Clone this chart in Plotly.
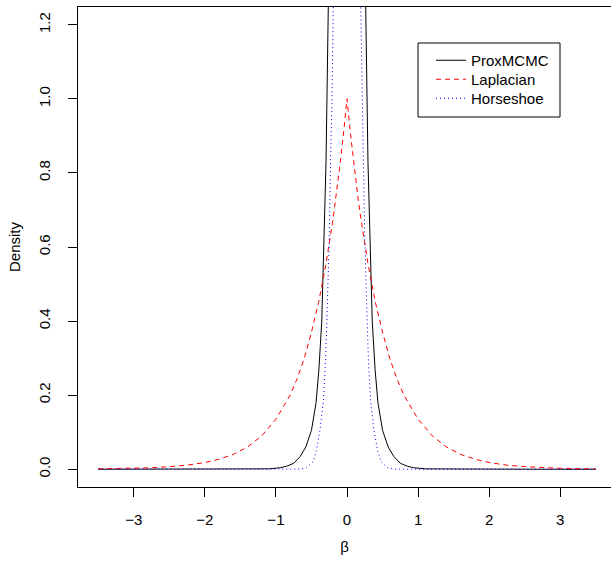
import plotly.graph_objects as go

# ---- data ----
beta_lap = [-3.5, -3.25, -3.0, -2.75, -2.5, -2.25, -2.0, -1.8, -1.6, -1.4, -1.2, -1.0,
            -0.8, -0.7, -0.6, -0.5, -0.4, -0.3, -0.2, -0.15, -0.1, -0.05, 0.0,
            0.05, 0.1, 0.15, 0.2, 0.3, 0.4, 0.5, 0.6, 0.7, 0.8,
            1.0, 1.2, 1.4, 1.6, 1.8, 2.0, 2.25, 2.5, 2.75, 3.0, 3.25, 3.5]
dens_lap = [0.001, 0.0015, 0.0025, 0.004, 0.007, 0.011, 0.018, 0.027, 0.04, 0.06, 0.09, 0.135,
            0.20, 0.245, 0.30, 0.37, 0.45, 0.55, 0.67, 0.74, 0.82, 0.905, 1.0,
            0.905, 0.82, 0.74, 0.67, 0.55, 0.45, 0.37, 0.30, 0.245, 0.20,
            0.135, 0.09, 0.06, 0.04, 0.027, 0.018, 0.011, 0.007, 0.004, 0.0025, 0.0015, 0.001]

beta_prox = [-3.5, -3.0, -2.5, -2.0, -1.5, -1.1, -0.94, -0.85, -0.75, -0.66, -0.58, -0.5,
             -0.435, -0.395, -0.355, -0.32, -0.295, -0.263, -0.24, -0.2, -0.1, 0.0,
             0.1, 0.2, 0.24, 0.263, 0.295, 0.32, 0.355, 0.395, 0.435, 0.5,
             0.58, 0.66, 0.75, 0.85, 0.94, 1.1, 1.5, 2.0, 2.5, 3.0, 3.5]
dens_prox = [0.0, 0.0, 0.0, 0.0, 0.0002, 0.001, 0.004, 0.008, 0.016, 0.034, 0.06, 0.105,
             0.18, 0.27, 0.40, 0.62, 0.83, 1.25, 1.6, 2.4, 6.0, 10.0,
             6.0, 2.4, 1.6, 1.25, 0.83, 0.62, 0.40, 0.27, 0.18, 0.105,
             0.06, 0.034, 0.016, 0.008, 0.004, 0.001, 0.0002, 0.0, 0.0, 0.0, 0.0]

beta_hs = [-3.5, -3.0, -2.5, -2.0, -1.5, -1.0, -0.8, -0.66, -0.57, -0.48, -0.43, -0.38,
           -0.33, -0.30, -0.28, -0.25, -0.23, -0.211, -0.193, -0.17, -0.1, 0.0,
           0.1, 0.17, 0.193, 0.211, 0.23, 0.25, 0.28, 0.30, 0.33, 0.38,
           0.43, 0.48, 0.57, 0.66, 0.8, 1.0, 1.5, 2.0, 2.5, 3.0, 3.5]
dens_hs = [0.0, 0.0, 0.0, 0.0, 0.0, 0.0, 0.0, 0.0005, 0.004, 0.02, 0.05, 0.105,
           0.19, 0.30, 0.42, 0.62, 0.843, 0.996, 1.25, 1.6, 6.0, 20.0,
           6.0, 1.6, 1.25, 0.996, 0.843, 0.62, 0.42, 0.30, 0.19, 0.105,
           0.05, 0.02, 0.004, 0.0005, 0.0, 0.0, 0.0, 0.0, 0.0, 0.0, 0.0]

x_ticks = [-3, -2, -1, 0, 1, 2, 3]
y_ticks = [0.0, 0.2, 0.4, 0.6, 0.8, 1.0, 1.2]

FONT = "Liberation Sans, Arial, Helvetica, sans-serif"

fig = go.Figure()
fig.add_trace(go.Scatter(x=beta_prox, y=dens_prox, mode="lines", name="ProxMCMC",
                         line=dict(color="black", width=1), legend="legend"))
fig.add_trace(go.Scatter(x=beta_lap, y=dens_lap, mode="lines", name="Laplacian",
                         line=dict(color="red", width=1, dash="5px,4px"), legend="legend2"))
fig.add_trace(go.Scatter(x=beta_hs, y=dens_hs, mode="lines", name="Horseshoe",
                         line=dict(color="blue", width=1, dash="1px,3px"), legend="legend3"))

L, T, B = 78, 7, 75
W, H = 611, 562
pw = W - L
ph = H - T - B

def px_x(p):
    return (p - L) / pw

def px_y(p):
    return (H - B - p) / ph

def leg(top_px):
    return dict(x=px_x(431), y=px_y(top_px), xanchor="left", yanchor="top",
                bgcolor="rgba(0,0,0,0)", borderwidth=0,
                font=dict(family=FONT, size=15, color="black"),
                itemwidth=30)

fig.update_layout(
    width=W, height=H,
    margin=dict(l=L, r=0, t=T, b=B, pad=0, autoexpand=False),
    paper_bgcolor="white", plot_bgcolor="white",
    font=dict(family=FONT, size=15, color="black"),
    showlegend=True,
    legend=leg(44), legend2=leg(63), legend3=leg(82),
    xaxis=dict(range=[(L - 347) / 71.08, (W - 347) / 71.08], automargin=False,
               tickvals=x_ticks, ticks="outside", ticklen=9, tickcolor="black",
               showline=True, linecolor="black", linewidth=1, mirror=True,
               showgrid=False, zeroline=False,
               ticklabelstandoff=10,
               title=dict(text="β", standoff=14, font=dict(size=15))),
    yaxis=dict(range=[-0.048, 1.248], automargin=False,
               tickvals=y_ticks, tickformat=".1f", tickangle=-90,
               ticks="outside", ticklen=9, tickcolor="black",
               showline=True, linecolor="black", linewidth=1, mirror=False,
               showgrid=False, zeroline=False,
               ticklabelstandoff=12,
               title=dict(text="Density", standoff=11, font=dict(size=15))),
    shapes=[dict(type="rect", xref="paper", yref="paper",
                 x0=px_x(418), x1=px_x(560), y0=px_y(117), y1=px_y(43),
                 line=dict(color="black", width=1), fillcolor="rgba(0,0,0,0)")],
)

fig.write_html("out.html",
               config={"displayModeBar": False},
               post_script="document.body.style.margin='0px';"
                           "document.body.style.padding='0px';"
                           "document.body.style.overflow='hidden';")
